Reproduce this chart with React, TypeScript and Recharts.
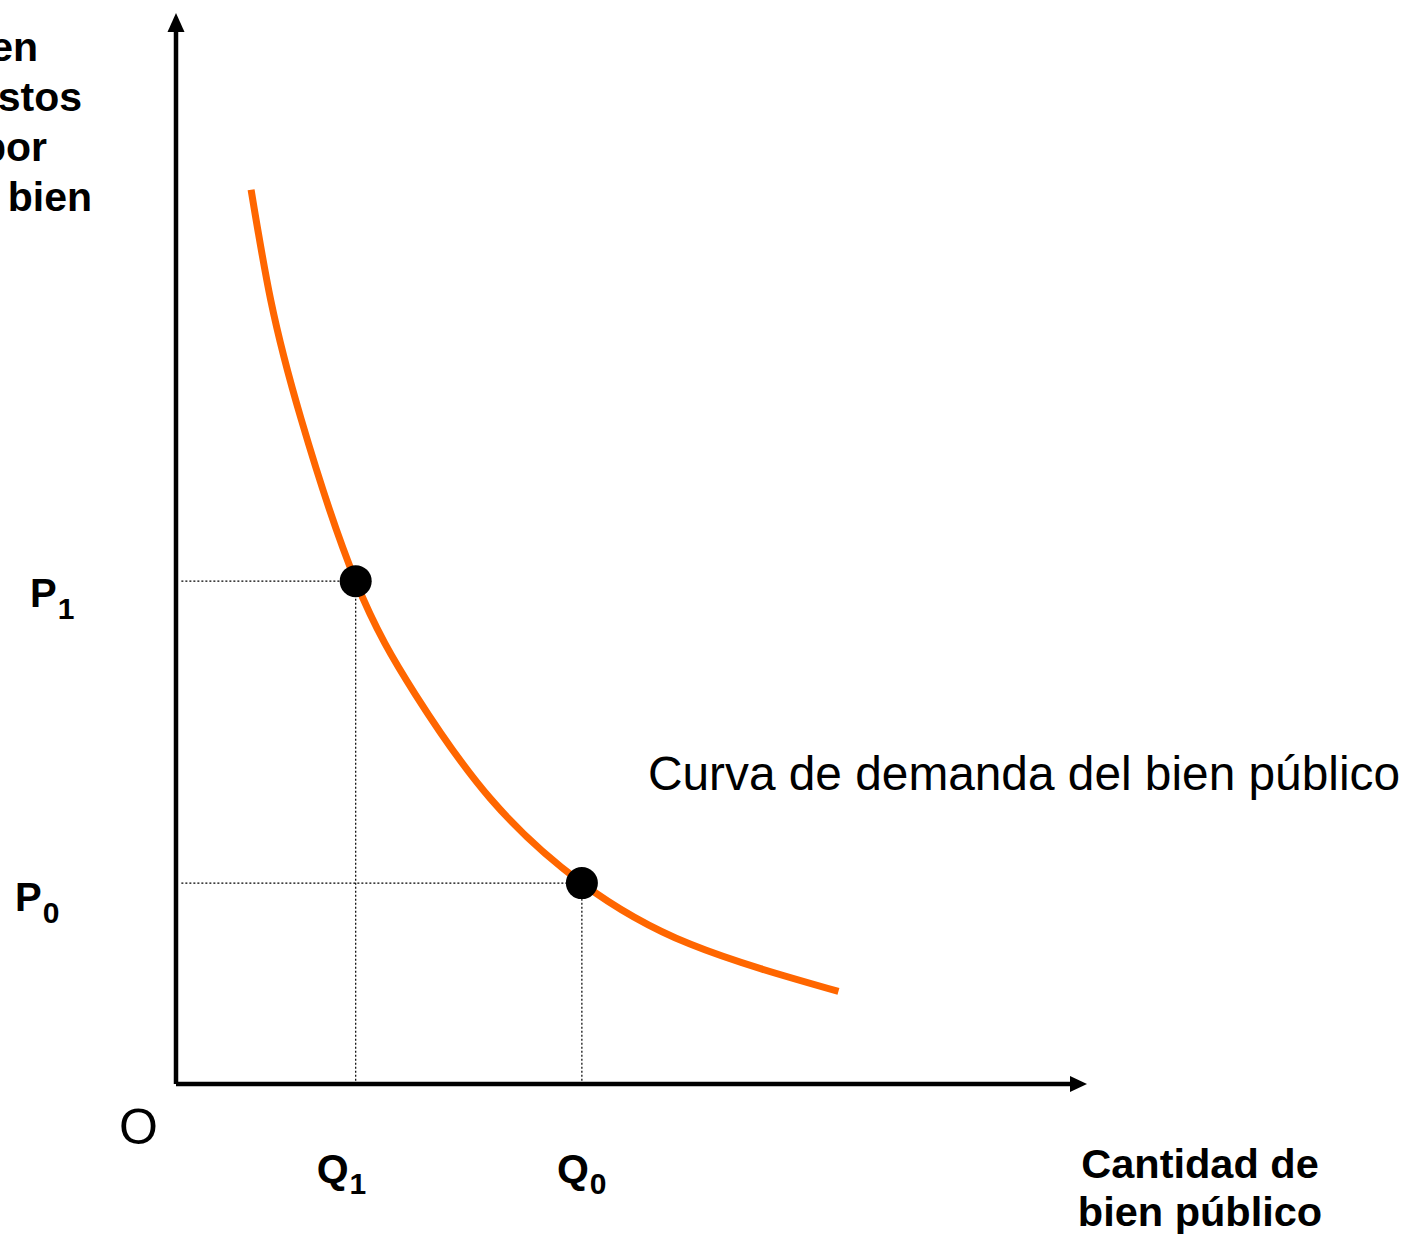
import React from 'react';
import {
  ComposedChart,
  Line,
  Scatter,
  XAxis,
  YAxis,
  ReferenceLine,
  ReferenceDot,
  Customized,
} from 'recharts';

// Demand curve (quantity of public good vs. tax price)
const CURVE_Q = [8.4, 10.6, 14.0, 20.1, 26.8, 35.2, 45.4, 57.5, 74.1];
const CURVE_P = [85.0, 74.5, 63.2, 47.8, 37.0, 27.1, 19.1, 13.3, 8.8];

// Marked equilibrium points
const POINT_Q = [20.1, 45.4];
const POINT_P = [47.8, 19.1];

// Tick labels (letter + subscript)
const Q_TICKS = [20.1, 45.4];
const Q_LABELS = [['Q', '1'], ['Q', '0']];
const P_TICKS = [19.1, 47.8];
const P_LABELS = [['P', '0'], ['P', '1']];

const Y_TITLE_LINES = ['Precio en', 'impuestos', 'por', 'unidad de bien'];
const X_TITLE_LINES = ['Cantidad de', 'bien público'];
const CURVE_LABEL = 'Curva de demanda del bien público';
const ORIGIN_LABEL = 'O';

const curveData = CURVE_Q.map((q, i) => ({ q, p: CURVE_P[i] }));
const pointData = POINT_Q.map((q, i) => ({ q, p: POINT_P[i] }));

const FONT = '"Liberation Sans", Arial, Helvetica, sans-serif';
const ORANGE = '#FF6600';

const W = 1402;
const H = 1240;
const MARGIN = { top: 32, right: 332, bottom: 155, left: 175 };

const PriceTick = (props: any) => {
  const { y, payload } = props;
  const idx = P_TICKS.indexOf(payload.value);
  const lab = P_LABELS[idx] || ['', ''];
  const pos = idx === 1 ? { x: 30, dy: 26 } : { x: 15, dy: 28 };
  return (
    <text
      x={pos.x}
      y={y + pos.dy}
      fontFamily={FONT}
      fontWeight="bold"
      fontSize={40}
      fill="#000"
    >
      {lab[0]}
      <tspan fontSize={30} dy={12} dx={1}>
        {lab[1]}
      </tspan>
    </text>
  );
};

const QtyTick = (props: any) => {
  const { x, payload } = props;
  const idx = Q_TICKS.indexOf(payload.value);
  const lab = Q_LABELS[idx] || ['', ''];
  const off = idx === 0 ? -39 : -25;
  return (
    <text
      x={x + off}
      y={1183}
      fontFamily={FONT}
      fontWeight="bold"
      fontSize={41}
      fill="#000"
    >
      {lab[0]}
      <tspan fontSize={30} dy={11} dx={1}>
        {lab[1]}
      </tspan>
    </text>
  );
};

const ArrowUp = (props: any) => {
  const { cx, cy } = props;
  return (
    <polygon
      points={`${cx - 8.5},${cy} ${cx + 8.5},${cy} ${cx},${cy - 19}`}
      fill="#000"
    />
  );
};

const ArrowRight = (props: any) => {
  const { cx, cy } = props;
  return (
    <polygon
      points={`${cx},${cy - 8} ${cx},${cy + 8} ${cx + 17},${cy}`}
      fill="#000"
    />
  );
};

const BigDot = (props: any) => {
  const { cx, cy } = props;
  return <circle cx={cx} cy={cy} r={16} fill="#000" />;
};

const Texts = () => (
  <g fontFamily={FONT} fill="#000">
    {Y_TITLE_LINES.map((t, i) => {
      const ends = [38, 82, 47, 92];
      return (
        <text
          key={t}
          x={ends[i]}
          y={61 + i * 50}
          textAnchor="end"
          fontWeight="bold"
          fontSize={41}
        >
          {t}
        </text>
      );
    })}
    {X_TITLE_LINES.map((t, i) => (
      <text
        key={t}
        x={1200}
        y={1178 + i * 48}
        textAnchor="middle"
        fontWeight="bold"
        fontSize={41.5}
      >
        {t}
      </text>
    ))}
    <text x={648} y={790} fontSize={47.8}>
      {CURVE_LABEL}
    </text>
    <text x={119} y={1144} fontSize={50}>
      {ORIGIN_LABEL}
    </text>
  </g>
);

export default function App() {
  return (
    <div style={{ position: 'absolute', left: 0, top: 0, background: '#fff' }}>
      <ComposedChart width={W} height={H} data={curveData} margin={MARGIN}>
        <XAxis
          dataKey="q"
          type="number"
          domain={[0, 100]}
          ticks={Q_TICKS}
          tick={<QtyTick />}
          tickLine={false}
          axisLine={{ stroke: '#000', strokeWidth: 4.5 }}
          height={1}
          interval={0}
          allowDataOverflow
        />
        <YAxis
          type="number"
          domain={[0, 100]}
          ticks={P_TICKS}
          tick={<PriceTick />}
          tickLine={false}
          axisLine={{ stroke: '#000', strokeWidth: 4.5 }}
          width={1}
          interval={0}
          allowDataOverflow
        />
        <ReferenceLine
          segment={[{ x: 0.6, y: POINT_P[0] }, { x: POINT_Q[0], y: POINT_P[0] }]}
          stroke="#000"
          strokeWidth={1.2}
          strokeDasharray="2 2"
        />
        <ReferenceLine
          segment={[{ x: 0.6, y: POINT_P[1] }, { x: POINT_Q[1], y: POINT_P[1] }]}
          stroke="#000"
          strokeWidth={1.2}
          strokeDasharray="2 2"
        />
        <ReferenceLine
          segment={[{ x: POINT_Q[0], y: 0.3 }, { x: POINT_Q[0], y: POINT_P[0] }]}
          stroke="#000"
          strokeWidth={1.2}
          strokeDasharray="2 2"
        />
        <ReferenceLine
          segment={[{ x: POINT_Q[1], y: 0.3 }, { x: POINT_Q[1], y: POINT_P[1] }]}
          stroke="#000"
          strokeWidth={1.2}
          strokeDasharray="2 2"
        />
        <Line
          dataKey="p"
          type="natural"
          stroke={ORANGE}
          strokeWidth={7}
          dot={false}
          activeDot={false}
          isAnimationActive={false}
        />
        <Scatter
          data={pointData}
          dataKey="p"
          shape={<BigDot />}
          isAnimationActive={false}
        />
        <ReferenceDot x={0} y={100} r={0} ifOverflow="visible" shape={<ArrowUp />} />
        <ReferenceDot x={100} y={0} r={0} ifOverflow="visible" shape={<ArrowRight />} />
        <Customized component={Texts} />
      </ComposedChart>
    </div>
  );
}
